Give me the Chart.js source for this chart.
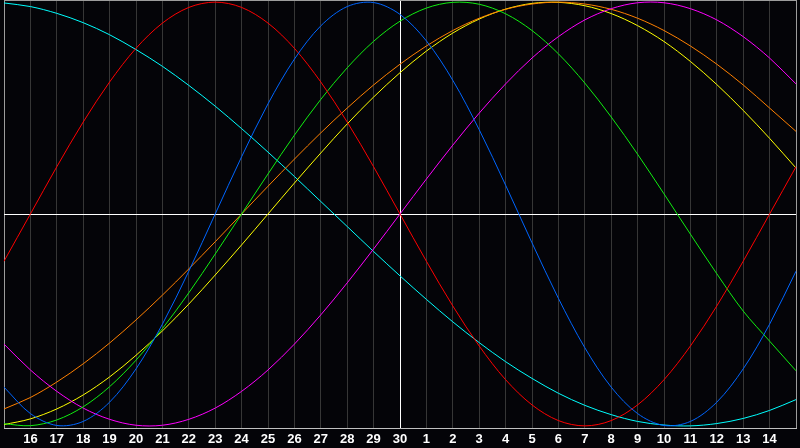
<!DOCTYPE html>
<html>
<head>
<meta charset="utf-8">
<script src="https://cdn.jsdelivr.net/npm/chart.js@4.4.1/dist/chart.umd.min.js"></script>
<style>
    body { margin: 0; background: #040408; }
    #wrap { width: 800px; height: 448px; }
</style>
</head>
<body>
<div id="wrap"><canvas id="bioChart" width="800" height="448"></canvas></div>
<script>
const dayLabels = ['15', '16', '17', '18', '19', '20', '21', '22', '23', '24', '25', '26', '27', '28', '29', '30',
    '1', '2', '3', '4', '5', '6', '7', '8', '9', '10', '11', '12', '13', '14', '15'];

// percent values, one per day
const physical = [-81.7, -94.2, -99.8, -97.9, -88.8, -73.1, -52.0, -27.0, 0, 27.0, 52.0, 73.1, 88.8, 97.9, 99.8, 94.2,
    81.7, 63.1, 39.8, 13.6, -13.6, -39.8, -63.1, -81.7, -94.2, -99.8, -97.9, -88.8, -73.1, -52.0, -27.0];
const emotional = [-22.3, 0, 22.3, 43.4, 62.3, 78.2, 90.1, 97.5, 100, 97.5, 90.1, 78.2, 62.3, 43.4, 22.3, 0,
    -22.3, -43.4, -62.3, -78.2, -90.1, -97.5, -100, -97.5, -90.1, -78.2, -62.3, -43.4, -22.3, 0, 22.3];
const intellectual = [-99.0, -99.9, -97.2, -91.0, -81.5, -69.0, -54.1, -37.2, -18.9, 0, 18.9, 37.2, 54.1, 69.0, 81.5, 91.0,
    97.2, 99.9, 99.0, 94.5, 86.6, 75.6, 61.8, 45.8, 28.2, 9.5, -9.5, -28.2, -45.8, -60.0, -74.0];
const intuitive = [-61.4, -73.6, -83.7, -91.6, -96.9, -99.7, -99.7, -96.9, -91.6, -83.7, -73.6, -61.4, -47.6, -32.5, -16.5, 0,
    16.5, 32.5, 47.6, 61.4, 73.6, 83.7, 91.6, 96.9, 99.7, 99.7, 96.9, 91.6, 83.7, 73.6, 61.4];
const aesthetic = [-99.4, -96.7, -92.0, -85.4, -76.9, -66.7, -55.2, -42.5, -28.8, -14.6, 0, 14.6, 28.8, 42.5, 55.2, 66.7,
    76.9, 85.4, 92.0, 96.7, 99.4, 99.9, 98.3, 94.6, 88.9, 81.4, 72.0, 61.1, 48.9, 35.7, 21.7];
const awareness = [-92.0, -86.6, -79.3, -70.7, -60.9, -50.0, -38.3, -25.9, -13.1, 0, 13.1, 25.9, 38.3, 50.0, 60.9, 70.7,
    79.3, 86.6, 92.4, 96.6, 99.1, 100, 99.1, 96.6, 92.4, 86.6, 79.3, 70.7, 60.9, 50.0, 39.0];
const spiritual = [99.6, 97.9, 94.7, 90.3, 84.6, 77.6, 69.7, 60.7, 50.9, 40.3, 29.2, 17.7, 5.9, -5.9, -17.7, -29.2,
    -40.3, -50.9, -60.7, -69.7, -77.6, -84.6, -90.3, -94.7, -97.9, -99.6, -100, -98.9, -96.5, -92.7, -87.6];

const todayIndex = 15;

function line(data, color) {
    return {
        data: data,
        borderColor: color,
        borderWidth: 1,
        pointRadius: 0,
        tension: 0.33,
        fill: false
    };
}

new Chart(document.getElementById('bioChart'), {
    type: 'line',
    data: {
        labels: dayLabels,
        datasets: [
            line(physical, '#0066ff'),
            line(emotional, '#ff0000'),
            line(intellectual, '#11ee11'),
            line(intuitive, '#ff00ff'),
            line(awareness, '#ff8000'),
            line(aesthetic, '#ffff00'),
            line(spiritual, '#00ffff')
        ]
    },
    options: {
        responsive: false,
        animation: false,
        layout: { padding: { right: 1, bottom: -2 } },
        plugins: { legend: { display: false }, tooltip: { enabled: false } },
        scales: {
            x: {
                offset: false,
                grid: {
                    drawTicks: false,
                    color: ctx => {
                        if (ctx.index === todayIndex) return '#ffffff';
                        if (ctx.index === 0 || ctx.index === dayLabels.length - 1) return '#9c9c9c';
                        return '#363636';
                    }
                },
                border: { color: '#c0c0c0' },
                ticks: {
                    autoSkip: false,
                    maxRotation: 0,
                    padding: 4,
                    color: '#ffffff',
                    font: { family: 'Liberation Sans', size: 13, weight: 'bold', lineHeight: 14 / 13 },
                    callback: function (value, index) {
                        if (index === 0 || index === dayLabels.length - 1) return '';
                        return dayLabels[index];
                    }
                }
            },
            y: {
                min: -101,
                max: 101,
                afterBuildTicks: axis => {
                    axis.ticks = [{ value: -101 }, { value: 0 }, { value: 101 }];
                },
                ticks: { display: false },
                border: { display: false },
                grid: {
                    drawTicks: false,
                    color: ctx => ctx.tick.value === 0 ? '#ffffff' : '#9c9c9c'
                }
            }
        }
    }
});
</script>
</body>
</html>
